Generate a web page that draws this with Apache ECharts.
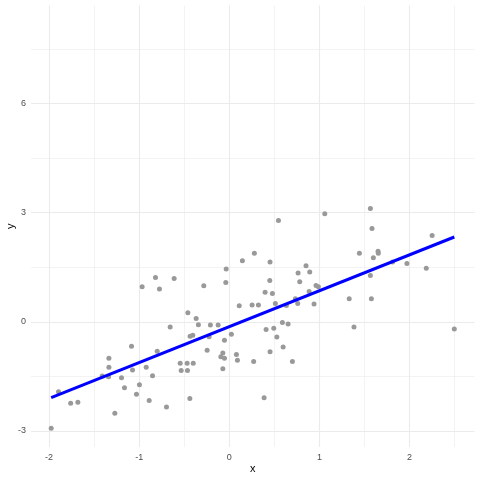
<!DOCTYPE html>
<html>
<head>
<meta charset="utf-8">
<script src="https://cdn.jsdelivr.net/npm/echarts@6/dist/echarts.min.js"></script>
<style>html,body{margin:0;padding:0;background:#fff}#c{width:480px;height:480px}</style>
</head>
<body>
<div id="c"></div>
<script>
// Scatter points (x values)
const pointX = [
  -1.976,-1.895,-1.76,-1.68,-1.27,-1.41,-1.336,-1.336,-1.34,-1.196,
  -1.163,-1.085,-1.074,-1.03,-0.997,-0.967,-0.922,-0.889,-0.852,-0.819,
  -0.80,-0.775,-0.697,-0.656,-0.612,-0.545,-0.534,-0.468,-0.464,-0.46,
  -0.438,-0.435,-0.405,-0.40,-0.368,-0.343,-0.283,-0.246,-0.224,-0.21,
  -0.124,-0.094,-0.072,-0.072,-0.054,-0.054,-0.039,-0.035,0.023,0.079,
  0.09,0.11,
  0.145,0.278,0.253,0.323,0.27,0.386,0.397,0.408,0.449,0.452,
  0.452,0.478,0.493,0.511,0.527,0.545,0.589,0.597,0.633,0.652,
  0.70,0.733,0.759,0.763,0.781,0.851,0.885,0.892,0.94,0.962,
  0.988,1.059,1.33,1.383,1.443,1.565,1.565,1.576,1.583,1.598,
  1.65,1.653,1.81,1.97,2.185,2.25,2.496
];
// Scatter points (y values)
const pointY = [
  -2.925,-1.92,-2.24,-2.21,-2.51,-1.49,-1.0,-1.25,-1.51,-1.54,
  -1.81,-0.675,-1.325,-1.99,-1.73,0.96,-1.25,-2.16,-1.48,1.22,
  -0.81,0.90,-2.34,-0.14,1.19,-1.14,-1.34,-1.14,-1.34,0.25,
  -2.11,-0.40,-0.37,-1.14,0.09,-0.08,0.99,-0.78,-0.41,-0.09,
  -0.09,-0.96,-0.86,-1.29,-0.51,-1.0,1.08,1.45,-0.34,-0.90,
  -1.06,0.44,
  1.68,1.88,0.46,0.46,-1.09,-2.085,0.815,-0.21,1.135,1.64,
  -0.82,0.78,-0.18,0.50,-0.42,2.78,-0.02,-0.69,0.45,-0.06,
  -1.09,0.63,0.50,1.34,1.10,1.54,0.83,1.37,0.486,1.0,
  0.96,2.97,0.63,-0.14,1.885,3.11,1.27,0.63,2.56,1.76,
  1.94,1.88,1.64,1.60,1.47,2.37,-0.20
];
// Fitted regression line endpoints
const lineX = [-1.976, 2.496];
const lineY = [-2.085, 2.33];
// Axis tick labels and gridlines
const xMajor = [-2, -1, 0, 1, 2];
const xMinor = [-1.5, -0.5, 0.5, 1.5, 2.5];
const yMajor = [-3, 0, 3, 6];
const yMinor = [-1.5, 1.5, 4.5, 7.5];
const xTitle = 'x';
const yTitle = 'y';

const points = pointX.map((x, i) => [x, pointY[i]]);
const fit = lineX.map((x, i) => [x, lineY[i]]);

const gridColor = '#ebebeb';
function gridLines(vals, key, width) {
  return vals.map(v => ({ [key]: v, lineStyle: { color: gridColor, width: width, type: 'solid' } }));
}

const chart = echarts.init(document.getElementById('c'), null, { renderer: 'canvas' });
chart.setOption({
  animation: false,
  backgroundColor: '#ffffff',
  textStyle: { fontFamily: 'Liberation Sans, Arial, sans-serif' },
  grid: { left: 31, right: 5.5, top: 5.5, bottom: 33, containLabel: false, outerBoundsMode: 'none' },
  xAxis: {
    type: 'value', min: -2.2, max: 2.72,
    name: xTitle, nameLocation: 'middle', nameGap: 16, nameMoveOverlap: false,
    nameTextStyle: { color: '#000', fontSize: 11, fontFamily: 'Liberation Sans' },
    axisLine: { show: false }, axisTick: { show: false },
    splitLine: { show: false },
    axisLabel: { customValues: xMajor, color: '#4d4d4d', fontSize: 9, margin: 6, fontFamily: 'Liberation Sans' }
  },
  yAxis: {
    type: 'value', min: -3.44, max: 8.69,
    name: yTitle, nameLocation: 'middle', nameGap: 15, nameRotate: 90, nameMoveOverlap: false,
    nameTextStyle: { color: '#000', fontSize: 11, fontFamily: 'Liberation Sans' },
    axisLine: { show: false }, axisTick: { show: false },
    splitLine: { show: false },
    axisLabel: { customValues: yMajor, color: '#4d4d4d', fontSize: 9, margin: 5, fontFamily: 'Liberation Sans' }
  },
  series: [
    {
      type: 'line', data: [], silent: true, z: 0,
      markLine: {
        silent: true, symbol: ['none', 'none'], animation: false, z: 0,
        label: { show: false },
        emphasis: { disabled: true },
        data: [].concat(
          gridLines(xMinor, 'xAxis', 0.6),
          gridLines(yMinor, 'yAxis', 0.6),
          gridLines(xMajor, 'xAxis', 1.1),
          gridLines(yMajor, 'yAxis', 1.1)
        )
      }
    },
    {
      type: 'scatter', data: points, symbolSize: 5, z: 2,
      itemStyle: { color: '#999999', opacity: 1 }
    },
    {
      type: 'line', data: fit, symbol: 'none', z: 3,
      lineStyle: { color: '#0000ff', width: 3 }
    }
  ]
});
</script>
</body>
</html>
